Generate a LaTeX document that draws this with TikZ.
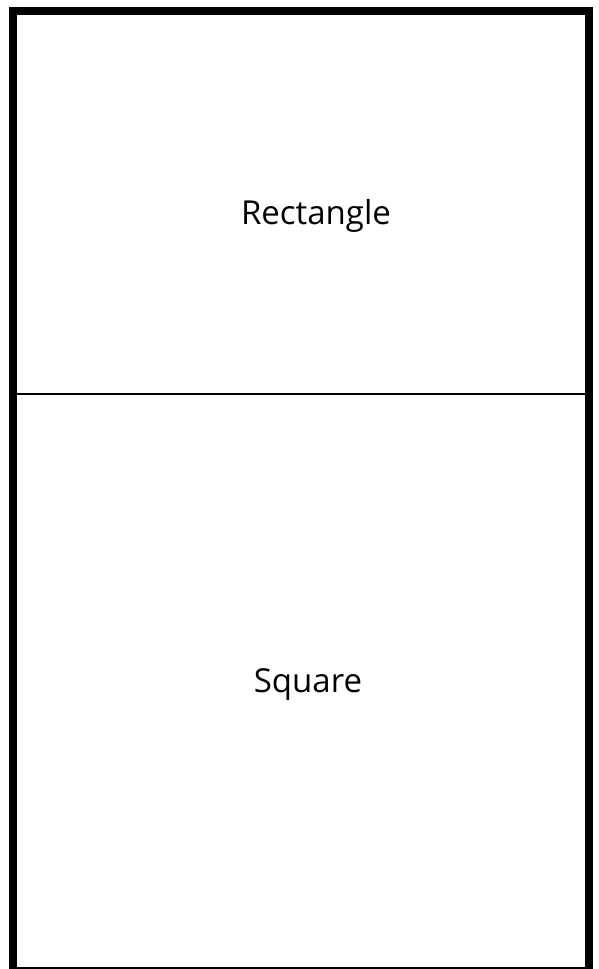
\documentclass[tikz,border=0pt]{standalone}
\usepackage{fontspec}
\setmainfont{Open Sans}
\usetikzlibrary{positioning}

\begin{document}
\begin{tikzpicture}[
  x=1pt, y=1pt,
  frame/.style={draw, line width=8pt},
  divider/.style={draw, line width=2pt},
  cell/.style={anchor=base, font=\fontsize{33}{40}\selectfont, inner sep=0pt}
]

\useasboundingbox (0,0) rectangle (598,969);

\draw[frame] (13,-2) rectangle (589,958);

\coordinate (divl) at (17,575);
\coordinate (divr) at (585,575);
\draw[divider] (divl) -- (divr);

\node[cell] (rect) at (316,744) {Rectangle};
\node[cell] (sq)   at (308,276) {Square};

\end{tikzpicture}
\end{document}
